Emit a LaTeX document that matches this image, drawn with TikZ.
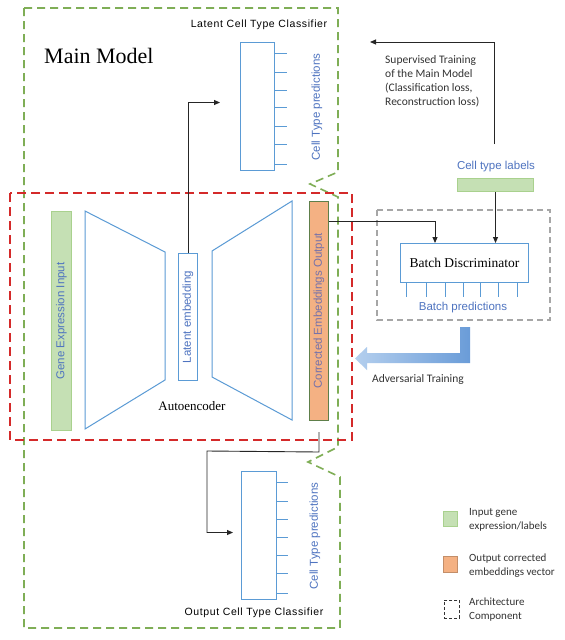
\documentclass[tikz,border=0pt]{standalone}
\usepackage{fontspec}
\setmainfont{Liberation Serif}
\newfontfamily\arialf{Liberation Sans}
\newfontfamily\calf{Carlito}
\usetikzlibrary{arrows.meta}
\definecolor{gdash}{HTML}{7FAE56}
\definecolor{rdash}{HTML}{D42A2A}
\definecolor{adash}{HTML}{A6A6A6}
\definecolor{bline}{HTML}{5B9BD5}
\definecolor{btext}{HTML}{4F74C0}
\definecolor{ptext}{HTML}{7672AA}
\definecolor{gfill}{HTML}{C5E0B4}
\definecolor{gedge}{HTML}{A9D18E}
\definecolor{ofill}{HTML}{F4B183}
\definecolor{oedge}{HTML}{5E7F4A}
\definecolor{arrL}{HTML}{B4CFEE}
\definecolor{arrR}{HTML}{6A9CD8}
\tikzset{
  bl/.style={draw=bline, line width=1pt},
  blbox/.style={draw=bline, line width=1pt, rectangle, inner sep=0pt, anchor=north west},
  arr/.style={draw=black!85, line width=0.9pt, -{Triangle[length=6pt,width=5pt]}},
  btxt/.style={font=\arialf\fontsize{11.5}{13}\selectfont, text=btext, inner sep=0pt},
  cls/.style={font=\arialf\fontsize{10.5}{12}\selectfont\addfontfeature{LetterSpace=6}, inner sep=0pt},
  calt/.style={font=\calf\fontsize{11.5}{14}\selectfont, inner sep=0pt, align=left},
  legt/.style={font=\calf\fontsize{11}{14}\selectfont, inner sep=0pt, align=left, anchor=west, text=black!80},
  serift/.style={inner sep=0pt},
}
\begin{document}
\begin{tikzpicture}[x=1pt,y=-1pt]
\useasboundingbox (0,0) rectangle (565,640);
\fill[white] (0,0) rectangle (565,640);

% Main model outline (green dashed)
\draw[gdash, line width=1.6pt, dash pattern=on 8pt off 5pt]
  (24,8) -- (338,8) -- (338,172) -- (310,184) -- (338,197) -- (338,447)
  -- (308,462) -- (340,477) -- (340,628) -- (24,628) -- cycle;

% Autoencoder outline (red dashed)
\draw[rdash, line width=1.6pt, dash pattern=on 9pt off 5pt] (10,193) rectangle (352,440);

% Main model title
\node[serift, font=\fontsize{22}{24}\selectfont, anchor=west] (mm) at (44,56) {Main Model};

% Latent classifier
\node[cls] (lclsT) at (259,25) {Latent Cell Type Classifier};
\node[blbox, minimum width=34pt, minimum height=128pt] (lcls) at (240,42) {};
\foreach \y in {53,72,90,107,126,144,164} \draw[bl] (274,\y) -- (287,\y);
\node[btxt, rotate=90] (lclsP) at (317,107) {Cell Type predictions};

% Gene expression input
\node[rectangle, fill=gfill, draw=gedge, line width=1pt, inner sep=0pt, anchor=north west,
      minimum width=20pt, minimum height=219pt] (gin) at (51,211) {};
\node[btxt, rotate=90] (ginT) at (gin) {Gene Expression Input};

% encoder / decoder trapezoids
\draw[bl] (85,211) -- (165,252) -- (165,380) -- (85,429) -- cycle;
\draw[bl] (212,251) -- (292,201) -- (292,420) -- (212,377) -- cycle;

% latent embedding
\node[blbox, minimum width=19pt, minimum height=127pt] (lat) at (178,253) {};
\node[btxt, rotate=90] (latT) at (lat) {Latent embedding};

% corrected embeddings output
\node[rectangle, fill=ofill, draw=oedge, line width=1pt, inner sep=0pt, anchor=north west,
      minimum width=19pt, minimum height=219pt] (out) at (309,201) {};
\node[btxt, text=ptext, rotate=90] (outT) at (out) {Corrected Embeddings Output};

\node[serift, font=\fontsize{13}{15}\selectfont] (ae) at (192,406) {Autoencoder};

% Batch discriminator component
\draw[adash, line width=1.3pt, dash pattern=on 6pt off 4pt] (377,210) rectangle (550,320);
\node[blbox, minimum width=128pt, minimum height=39pt] (bd) at (400,243) {};
\node[serift, font=\fontsize{13.5}{15}\selectfont] (bdT) at (bd) {Batch Discriminator};
\foreach \x in {406,426,445,463,480,498,517} \draw[bl] (\x,282) -- (\x,297);
\node[btxt] (bp) at (463,308) {Batch predictions};

% Cell type labels
\node[btxt] (ctlT) at (496,167) {Cell type labels};
\node[rectangle, fill=gfill, draw=gedge, line width=1pt, inner sep=0pt, anchor=north west,
      minimum width=76pt, minimum height=13pt] (ctl) at (457,178) {};

% Output classifier
\node[blbox, minimum width=35pt, minimum height=128pt] (ocls) at (241,471) {};
\foreach \y in {482,501,519,537,555,573,593} \draw[bl] (276,\y) -- (288,\y);
\node[btxt, rotate=90] (oclsP) at (315,536) {Cell Type predictions};
\node[cls] (oclsT) at (254,613) {Output Cell Type Classifier};

% Supervised training arrow
\coordinate (sup0) at (494,144);
\coordinate (sup1) at (370,42);
\draw[arr] (sup0) |- (sup1);
\node[calt, anchor=west, text=black!80] (supT) at (385,81)
  {Supervised Training\\of the Main Model\\(Classification loss,\\Reconstruction loss)};

% connectors
\draw[arr] (lat.north) |- ([xshift=-20pt,yshift=4pt]lcls.west);
\draw[arr] ([yshift=-20pt]out.north east) -| ([xshift=35pt]bd.north west);
\draw[arr] (ctl.south) -- (ctl.south |- bd.north);
\draw[arr] ([yshift=-11pt]out.south) -- ++(0,20) -- (207,451) |- ([xshift=-8pt,yshift=3pt]ocls.west);

% Adversarial training fat arrow
\shade[left color=arrL, right color=arrR]
  (460,327) -- (470,327) -- (470,363) -- (367,363) -- (367,370) -- (355,358.5)
  -- (367,347) -- (367,353) -- (460,353) -- cycle;
\node[calt, text=black!80] (advT) at (418,379) {Adversarial Training};

% Legend
\node[rectangle, fill=gfill, draw=gedge, line width=0.8pt, inner sep=0pt, anchor=north west,
      minimum width=14pt, minimum height=15pt] (lg1) at (443,511) {};
\node[legt] (lg1T) at (469,520) {Input gene\\expression/labels};
\node[rectangle, fill=ofill, draw=ofill!80!black, line width=0.8pt, inner sep=0pt, anchor=north west,
      minimum width=14pt, minimum height=16pt] (lg2) at (443,556) {};
\node[legt] (lg2T) at (469,565.5) {Output corrected\\embeddings vector};
\node[rectangle, draw=black!80, line width=0.8pt, dash pattern=on 3pt off 2pt, inner sep=0pt,
      anchor=north west, minimum width=15pt, minimum height=18pt] (lg3) at (444,600) {};
\node[legt] (lg3T) at (469,610) {Architecture\\Component};
\end{tikzpicture}
\end{document}
